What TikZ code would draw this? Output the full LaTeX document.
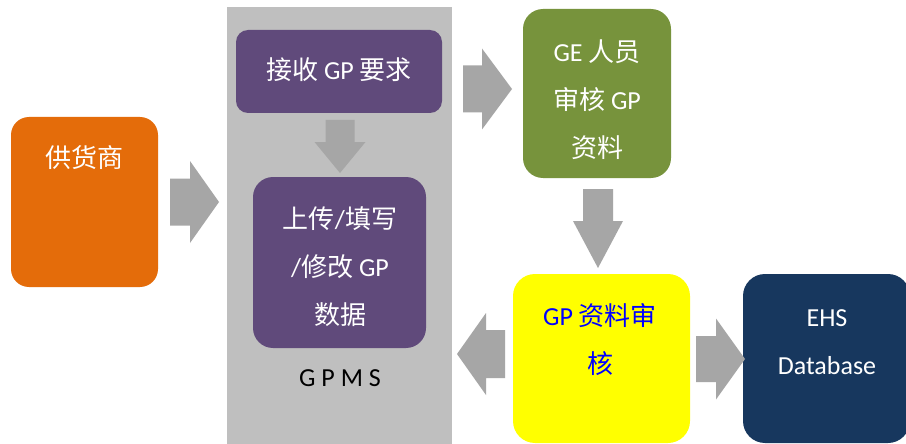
\documentclass[tikz,border=0pt]{standalone}
\usepackage{fontspec}
\setmainfont{Carlito}
\newfontfamily\cjk{Noto Sans CJK SC}
\definecolor{cOrange}{HTML}{E46C0A}
\definecolor{cPurple}{HTML}{604A7B}
\definecolor{cGreen}{HTML}{77933C}
\definecolor{cNavy}{HTML}{17375E}
\definecolor{cBg}{HTML}{BFBFBF}
\definecolor{cArrow}{HTML}{A6A6A6}
\definecolor{cBlue}{HTML}{0000FF}
\definecolor{cYellow}{HTML}{FFFF00}
\newcommand{\arrR}[6]{\fill[cArrow] (#1,#4-#5) -- (#2,#4-#5) -- (#2,#4-#6) -- (#3,#4) -- (#2,#4+#6) -- (#2,#4+#5) -- (#1,#4+#5) -- cycle;}
\newcommand{\arrD}[6]{\fill[cArrow] (#4-#5,#1) -- (#4-#5,#2) -- (#4-#6,#2) -- (#4,#3) -- (#4+#6,#2) -- (#4+#5,#2) -- (#4+#5,#1) -- cycle;}
\tikzset{
  box/.style={inner sep=0pt, outer sep=0pt, draw=none},
  lbl/.style={inner sep=0pt, align=center, text=white, font=\fontsize{26pt}{48pt}\selectfont},
}
\begin{document}
\begin{tikzpicture}[x=1pt,y=-1pt]
\clip (0,0) rectangle (906,444);
\fill[white] (0,0) rectangle (906,444);
% boxes
\node[box, fill=cBg, minimum width=225, minimum height=437] (gpms) at (339.5,225.5) {};
\node[box, fill=cOrange, rounded corners=18, minimum width=147, minimum height=170] (supplier) at (84.5,202) {};
\node[box, fill=cPurple, rounded corners=12, minimum width=206, minimum height=83] (receive) at (339,71.5) {};
\node[box, fill=cPurple, rounded corners=20, minimum width=173, minimum height=171] (upload) at (339.5,262.5) {};
\node[box, fill=cGreen, rounded corners=20, minimum width=148, minimum height=169] (review) at (597,93.5) {};
\node[box, fill=cYellow, rounded corners=22, minimum width=177, minimum height=169] (audit) at (601.5,358.5) {};
\node[box, fill=cNavy, rounded corners=22, minimum width=167, minimum height=169] (ehs) at (826.5,358.5) {};
% texts
\node[lbl] (tsupplier) at (84.5,158) {\cjk 供货商};
\node[lbl] (treceive) at (339,70) {\cjk 接收\ \rmfamily GP\ \cjk 要求};
\node[lbl] (tupload) at (340,266.5) {{\cjk 上传}/{\cjk 填写}\\/{\cjk 修改} GP\\{\cjk 数据}};
\node[lbl] (treview) at (597,99.5) {GE {\cjk 人员}\\{\cjk 审核} GP\\{\cjk 资料}};
\node[lbl, text=cBlue] (taudit) at (600,340) {GP {\cjk 资料审}\\{\cjk 核}};
\node[lbl] (tehs) at (827,342) {EHS\\Database};
\node[lbl, text=black] (tgpms) at (340,378) {G P M S};
% block arrows
\arrR{170}{190}{219}{202}{23.5}{41}
\arrR{463}{482}{512}{89}{23.5}{40.5}
\arrR{696}{716}{745}{359}{23}{40.5}
\arrR{505}{486}{457}{354}{24}{41}
\arrD{120}{142}{173}{340}{14.5}{25.5}
\arrD{189}{221}{268}{598}{15}{25}
\end{tikzpicture}
\end{document}
